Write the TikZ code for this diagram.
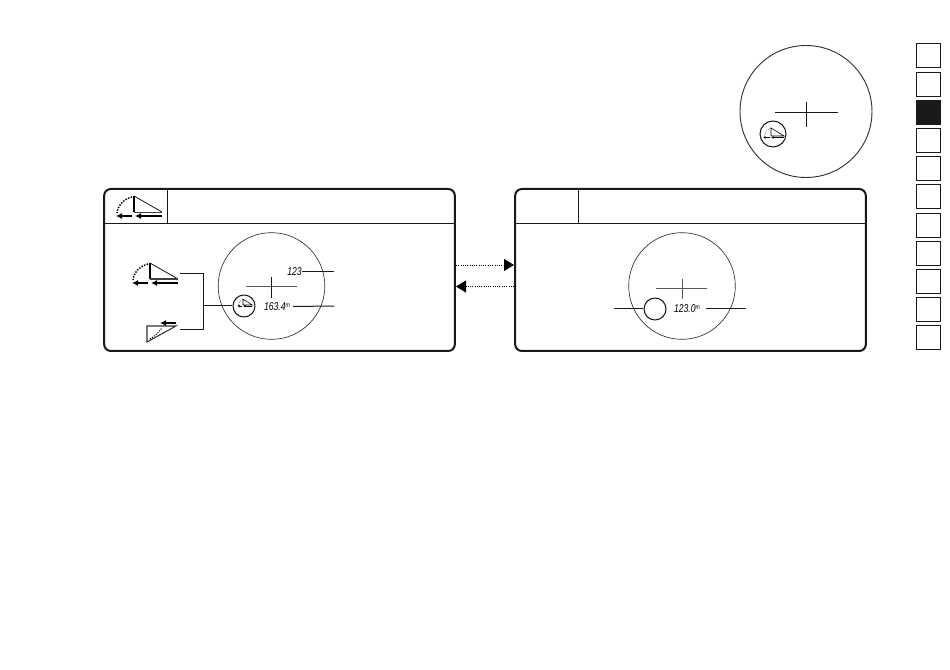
\documentclass[tikz,border=0pt]{standalone}
\usepackage{fontspec}
\setsansfont{Liberation Sans}
\usetikzlibrary{positioning, arrows.meta}

\tikzset{
  slope/.pic={
    \draw [line width=1.1pt] (0,0) -- (0,-16);
    \draw [line width=0.55pt] (0,-16) -- (28,0);
    \draw [line width=#1, black!75] (0,0) -- (28,0);
    \draw [line width=1.1pt, densely dotted] (-2,-15) .. controls (-10,-13) and (-16,-7) .. (-17,1);
    \draw [line width=1.1pt, -{Latex[length=4.5pt,width=4.5pt]}] (-2,4) -- (-18,4);
    \draw [line width=1.1pt, -{Latex[length=4.5pt,width=4.5pt]}] (28,4) -- (1,4);
  },
  slopedown/.pic={
    \draw [line width=0.8pt, black!80] (0,0) -- (29,0) -- (0,16) -- cycle;
    \draw [line width=0.8pt, densely dotted] (3,13) .. controls (8,10) and (12,6) .. (15,2);
    \draw [line width=1pt, -{Latex[length=4.5pt,width=4.5pt]}] (29,-3) -- (13,-3);
  },
  slopesmall/.pic={
    \draw [line width=0.45pt] (0,0) -- (0,-8) -- (13,0) -- cycle;
    \draw [line width=0.45pt, densely dotted] (-1,-7.5) .. controls (-4,-6.5) and (-6,-3) .. (-7,0.5);
    \draw [line width=0.55pt, -{Latex[length=2pt,width=2pt]}] (-1,1.5) -- (-8,1.5);
    \draw [line width=0.55pt, -{Latex[length=2pt,width=2pt]}] (13,1.5) -- (0,1.5);
  }
}

\begin{document}
\begin{tikzpicture}[
    x=0.75pt, y=-0.75pt,
    panel/.style={%
      draw=black!90,
      rectangle,
      line width=1.5pt,
      rounded corners=5pt,
      minimum width=263pt,
      minimum height=121.5pt,
      inner sep=0pt,
    },
    tabbox/.style={%
      draw=black!90,
      rectangle,
      line width=0.9pt,
      minimum width=17.6pt,
      minimum height=18pt,
      inner sep=0pt,
    },
    scope/.style={%
      draw=black!80,
      circle,
      line width=0.5pt,
      minimum size=80pt,
      inner sep=0pt,
    },
    badge/.style={%
      draw=black!90,
      circle,
      line width=0.8pt,
      minimum size=16.5pt,
      inner sep=0pt,
    },
    readout/.style={%
      font=\sffamily\itshape\fontsize{8.5}{9}\selectfont,
      inner sep=0pt,
      xscale=0.76,
    },
    lead/.style={line width=0.75pt, black!90},
    rule/.style={line width=0.7pt, black!90},
    hair/.style={line width=0.6pt, black!65},
    flow/.style={line width=0.7pt, densely dotted, -{Triangle[length=7.5pt,width=9pt]}},
  ]
    \useasboundingbox (0,0) rectangle (950,670);

    % side tabs
    \foreach \i/\ypos in {1/55.8, 2/84.3, 4/140.3, 5/168.3, 6/196.7, 7/225.3, 8/253.3, 9/281.3, 10/309.3, 11/337.8}
      \node [tabbox] (tab\i) at (928.4,\ypos) {};
    \node [tabbox, fill=black!90] (tab3) at (928.4,112.5) {};

    % top view
    \node [scope, minimum size=99pt, line width=0.7pt] (scopeT) at (806,111.5) {};
    \node [badge, minimum size=19.5pt] (badgeT) at (773,134) {};
    \pic at (771,136) {slopesmall};
    \coordinate (tW) at (775,112);
    \coordinate (tE) at (838,112);
    \coordinate (tN) at (806,102);
    \coordinate (tS) at (806,127);
    \draw [rule] (tW) -- (tE);
    \draw [rule] (tN) -- (tS);

    % panels
    \node [panel] (panelL) at (279.5,270) {};
    \node [panel] (panelR) at (690.5,270) {};
    \coordinate (headLw) at (104,223);
    \coordinate (headLe) at (455,223);
    \coordinate (headRw) at (515,223);
    \coordinate (headRe) at (866,223);
    \coordinate (divLn) at (167,189);
    \coordinate (divLs) at (167,223);
    \coordinate (divRn) at (578,189);
    \coordinate (divRs) at (578,223);
    \draw [rule] (headLw) -- (headLe);
    \draw [rule] (headRw) -- (headRe);
    \draw [rule] (divLn) -- (divLs);
    \draw [rule] (divRn) -- (divRs);

    \pic at (134,212) {slope=0.5pt};
    \pic at (150,279) {slope=1pt};
    \pic at (147,326) {slopedown};

    % left panel
    \node [scope] (scopeL) at (271.5,286) {};
    \node [badge] (badgeL) at (244,306) {};
    \pic [scale=0.72] at (243,305) {slopesmall};
    \node [readout] (valL) at (294.5,272) {123};
    \node [readout] (distL) at (277,306.5) {163.4\raisebox{2.5pt}{\scalebox{0.6}{m}}};
    \coordinate (valLe) at (334,272);
    \coordinate (distLe) at (334,306);
    \coordinate (crossLw) at (246,286);
    \coordinate (crossLe) at (297,286);
    \coordinate (crossLn) at (271,277);
    \coordinate (crossLs) at (271,298);
    \coordinate (brTop) at (180,273.5);
    \coordinate (brBot) at (180,330);
    \coordinate (brJoin) at (203.5,306);
    \draw [hair] (crossLw) -- (crossLe);
    \draw [rule] (crossLn) -- (crossLs);
    \draw [lead] (valL) ++(7,0) -- (valLe);
    \draw [lead] (distL) ++(16,0) -- (distLe);
    \draw [lead] (brTop) -| (brJoin) |- (brBot);
    \draw [lead] (brJoin) -- (badgeL);

    % right panel
    \node [scope] (scopeR) at (682,286) {};
    \node [badge] (badgeR) at (655,309) {};
    \node [readout] (distR) at (687,309) {123.0\raisebox{2.5pt}{\scalebox{0.6}{m}}};
    \coordinate (leadRw) at (614,309);
    \coordinate (leadRa) at (706,309);
    \coordinate (leadRe) at (746,309);
    \coordinate (crossRw) at (656,288);
    \coordinate (crossRe) at (707,288);
    \coordinate (crossRn) at (682,279);
    \coordinate (crossRs) at (682,299);
    \draw [hair] (crossRw) -- (crossRe);
    \draw [hair] (crossRn) -- (crossRs);
    \draw [lead] (leadRw) -- (badgeR);
    \draw [lead] (leadRa) -- (leadRe);

    % between panels
    \coordinate (flowAs) at (456,265);
    \coordinate (flowAe) at (514,265);
    \coordinate (flowBs) at (514,286.5);
    \coordinate (flowBe) at (456,286.5);
    \draw [flow] (flowAs) -- (flowAe);
    \draw [flow] (flowBs) -- (flowBe);
\end{tikzpicture}
\end{document}
